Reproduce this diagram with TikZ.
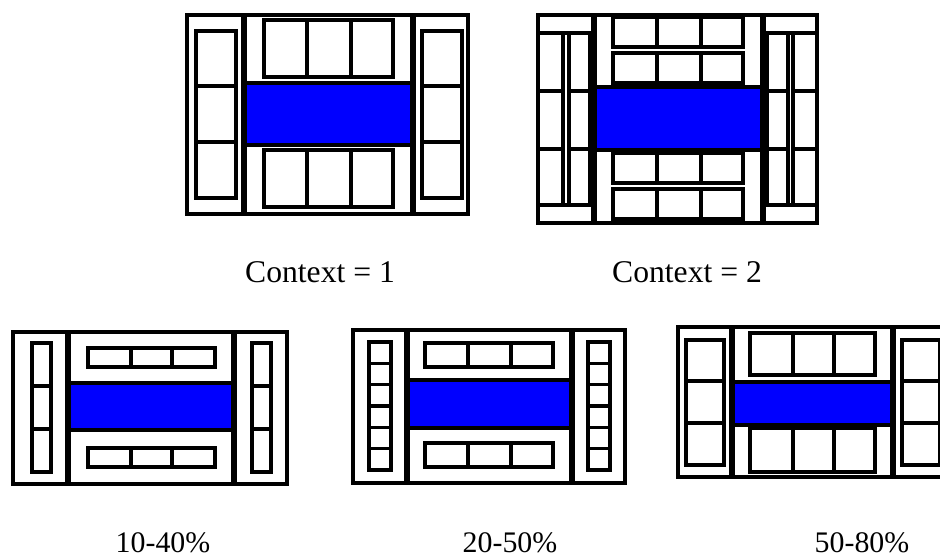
\documentclass[tikz,border=0pt]{standalone}
\usepackage{fontspec}
\setmainfont{Liberation Serif}

\begin{document}
\begin{tikzpicture}[x=0.02cm,y=-0.02cm,
  every node/.style={font=\fontsize{18}{20}\selectfont},
  frame/.style={line width=2.1pt},
  wall/.style={line width=3.2pt},
  cellbox/.style={line width=2pt},
  lane/.style={draw=black,fill=blue,line width=2pt},
  pct/.style={font=\fontsize{17}{19}\selectfont}]
\useasboundingbox (0,0) rectangle (940,558);
\clip (0,0) rectangle (940,558);

% context 1
\draw[frame] (187,15) rectangle (468,214);
\draw[lane] (244,83) rectangle (413,145);
\draw[wall] (244,15) -- (244,214) (413,15) -- (413,214);
\foreach \x in {196,422} {
  \draw[cellbox] (\x,31) rectangle ++(40,167);
  \draw[cellbox] (\x,86) -- ++(40,0) (\x,142) -- ++(40,0);
}
\foreach \y in {20,150} {
  \draw[cellbox] (264,\y) rectangle ++(129,57);
  \draw[cellbox] (307,\y) -- ++(0,57) (351,\y) -- ++(0,57);
}
\node[anchor=base] (ctx1) at (320,282) {Context = 1};

% context 2
\draw[frame] (538,15) rectangle (817,223);
\draw[lane] (594,87) rectangle (763,150);
\draw[wall] (594,15) -- (594,223) (763,15) -- (763,223);
\foreach \x/\w in {538/25,569/21,767/21,793/24} {
  \draw[cellbox] (\x,33) rectangle ++(\w,172);
  \draw[cellbox] (\x,91) -- ++(\w,0) (\x,149) -- ++(\w,0);
}
\draw[cellbox] (538,33) -- (594,33) (538,205) -- (594,205)
  (763,33) -- (817,33) (763,205) -- (817,205);
\foreach \y in {17,53,153,189} {
  \draw[cellbox] (613,\y) rectangle ++(130,30);
  \draw[cellbox] (657,\y) -- ++(0,30) (701,\y) -- ++(0,30);
}
\node[anchor=base] (ctx2) at (687,282) {Context = 2};

% 10-40%
\draw[frame] (13,332) rectangle (287,484);
\draw[lane] (68,383) rectangle (234,430);
\draw[wall] (68,332) -- (68,484) (234,332) -- (234,484);
\foreach \x in {32,252} {
  \draw[cellbox] (\x,343) rectangle ++(19,129);
  \draw[cellbox] (\x,386) -- ++(19,0) (\x,429) -- ++(19,0);
}
\foreach \y in {348,448} {
  \draw[cellbox] (88,\y) rectangle ++(127,19);
  \draw[cellbox] (131,\y) -- ++(0,19) (172,\y) -- ++(0,19);
}
\node[pct,anchor=base] (low) at (163,552) {10-40\%};

% 20-50%
\draw[frame] (353,330) rectangle (625,483);
\draw[lane] (407,380) rectangle (572,428);
\draw[wall] (407,330) -- (407,483) (572,330) -- (572,483);
\foreach \x in {369,588} {
  \draw[cellbox] (\x,342) rectangle ++(22,128);
  \foreach \k in {1,...,5}
    \draw[cellbox] (\x,342+21.33*\k) -- ++(22,0);
}
\foreach \y in {343,443} {
  \draw[cellbox] (425,\y) rectangle ++(128,24);
  \draw[cellbox] (468,\y) -- ++(0,24) (511,\y) -- ++(0,24);
}
\node[pct,anchor=base] (mid) at (510,552) {20-50\%};

% 50-80%
\draw[frame] (678,327) rectangle (947,477);
\draw[lane] (732,382) rectangle (893,425);
\draw[wall] (732,327) -- (732,477) (893,327) -- (893,477);
\foreach \x in {686,902} {
  \draw[cellbox] (\x,340) rectangle ++(38,125);
  \draw[cellbox] (\x,381) -- ++(38,0) (\x,423) -- ++(38,0);
}
\foreach \y/\h in {333/42,428/44} {
  \draw[cellbox] (750,\y) rectangle ++(125,\h);
  \draw[cellbox] (793,\y) -- ++(0,\h) (834,\y) -- ++(0,\h);
}
\node[pct,anchor=base] (high) at (862,552) {50-80\%};
\end{tikzpicture}
\end{document}
